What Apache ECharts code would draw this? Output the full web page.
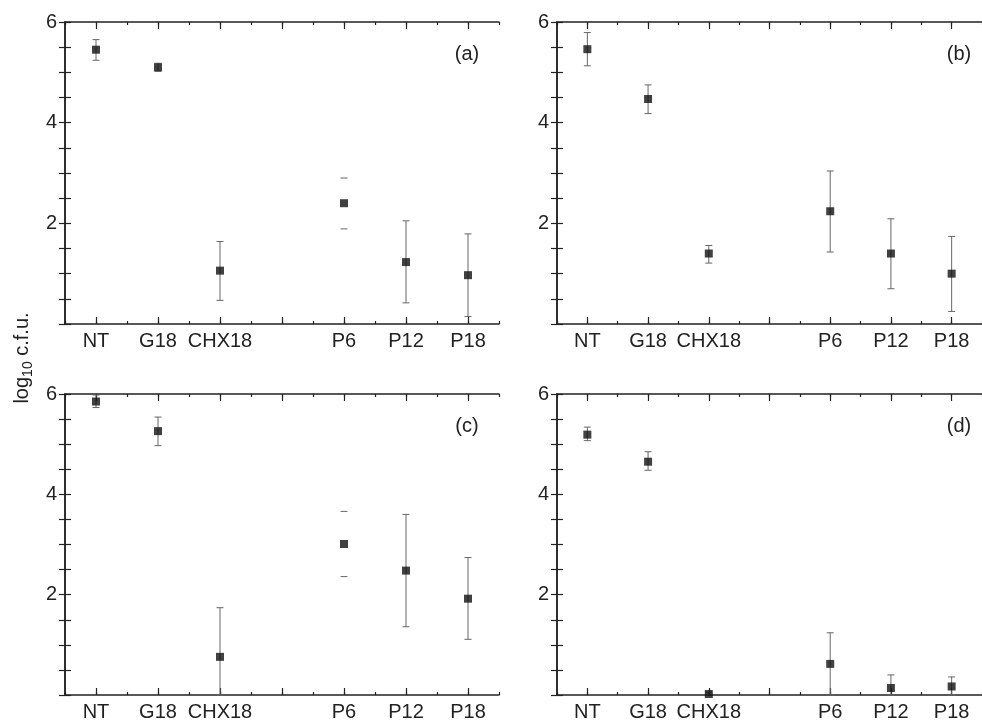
<!DOCTYPE html>
<html>
<head>
<meta charset="utf-8">
<script src="https://cdn.jsdelivr.net/npm/echarts@6/dist/echarts.min.js"></script>
<style>
  html, body { margin: 0; padding: 0; background: #fff; }
  #chart { width: 982px; height: 722px; }
</style>
</head>
<body>
<div id="chart"></div>
<script>
// treatments and where each sits on the shared x scale (0..14)
const categories = ["NT", "G18", "CHX18", "P6", "P12", "P18"];
const slots = [1, 3, 5, 9, 11, 13];
const panelNames = ["(a)", "(b)", "(c)", "(d)"];
const yTickLabels = [2, 4, 6];

// log10 c.f.u. means and error bar ends
const meanA = [5.45, 5.10, 1.06, 2.40, 1.23, 0.97];
const lowA = [5.24, 5.02, 0.47, 1.89, 0.42, 0.15];
const highA = [5.65, 5.18, 1.64, 2.90, 2.05, 1.79];

const meanB = [5.46, 4.47, 1.40, 2.24, 1.40, 1.00];
const lowB = [5.13, 4.18, 1.21, 1.43, 0.70, 0.25];
const highB = [5.79, 4.75, 1.56, 3.04, 2.09, 1.74];

const meanC = [5.85, 5.26, 0.76, 3.01, 2.48, 1.92];
const lowC = [5.73, 4.97, 0.0, 2.36, 1.36, 1.11];
const highC = [5.98, 5.54, 1.74, 3.66, 3.60, 2.74];

const meanD = [5.19, 4.65, 0.02, 0.62, 0.14, 0.17];
const lowD = [5.07, 4.48, 0.0, 0.0, 0.0, 0.0];
const highD = [5.34, 4.85, 0.05, 1.24, 0.40, 0.36];

// in (a) and (c) the P6 bar shows only its caps
const stemShown = [
  [1, 1, 1, 0, 1, 1],
  [1, 1, 1, 1, 1, 1],
  [1, 1, 1, 0, 1, 1],
  [1, 1, 1, 1, 1, 1]
];

const means = [meanA, meanB, meanC, meanD];
const lows = [lowA, lowB, lowC, lowD];
const highs = [highA, highB, highC, highD];

const font = "Liberation Sans, Arial, Helvetica, sans-serif";
const ink = "#222";
const grids = [
  { left: 65, top: 22, width: 434, height: 302 },
  { left: 557, top: 22, width: 434, height: 302 },
  { left: 65, top: 394, width: 434, height: 303 },
  { left: 557, top: 394, width: 434, height: 303 }
];

const oddSlots = [1, 3, 5, 7, 9, 11, 13];
const xAxes = [];
const yAxes = [];
const series = [];
const graphic = [];

grids.forEach((g, i) => {
  const base = { gridIndex: i, type: "value", min: 0, max: 14, interval: 1, splitLine: { show: false } };
  // bottom: line, labels, short ticks every slot
  xAxes.push(Object.assign({}, base, {
    position: "bottom",
    axisLine: { lineStyle: { color: ink, width: 1.5 } },
    axisTick: { inside: true, length: 3, lineStyle: { color: ink, width: 1.2 } },
    axisLabel: {
      customValues: slots,
      formatter: v => categories[slots.indexOf(v)] || "",
      color: ink, fontSize: 20, fontFamily: font, margin: 7
    }
  }));
  // bottom: longer ticks on odd slots
  xAxes.push(Object.assign({}, base, {
    position: "bottom",
    axisLine: { show: false },
    axisTick: { inside: true, length: 7, customValues: oddSlots, lineStyle: { color: ink, width: 1.2 } },
    axisLabel: { show: false }
  }));
  // top mirror
  xAxes.push(Object.assign({}, base, {
    position: "top",
    axisLine: { lineStyle: { color: ink, width: 1.5 } },
    axisTick: { inside: true, length: 3, lineStyle: { color: ink, width: 1.2 } },
    axisLabel: { show: false }
  }));
  xAxes.push(Object.assign({}, base, {
    position: "top",
    axisLine: { show: false },
    axisTick: { inside: true, length: 7, customValues: oddSlots, lineStyle: { color: ink, width: 1.2 } },
    axisLabel: { show: false }
  }));

  const ybase = { gridIndex: i, type: "value", min: 0, max: 6, interval: 0.5, splitLine: { show: false } };
  yAxes.push(Object.assign({}, ybase, {
    position: "left",
    axisLine: { lineStyle: { color: ink, width: 1.5 } },
    axisTick: { inside: true, length: 6, lineStyle: { color: ink, width: 1.2 } },
    axisLabel: { customValues: yTickLabels, color: ink, fontSize: 20, fontFamily: font, margin: 8 }
  }));
  yAxes.push(Object.assign({}, ybase, {
    position: "right",
    axisLine: { lineStyle: { color: ink, width: 1.5 } },
    axisTick: { inside: true, length: 6, lineStyle: { color: ink, width: 1.2 } },
    axisLabel: { show: false }
  }));

  const barData = slots.map((s, k) => [s, lows[i][k], highs[i][k], stemShown[i][k]]);
  series.push({
    type: "custom",
    xAxisIndex: i * 4,
    yAxisIndex: i * 2,
    data: barData,
    z: 2,
    renderItem: (params, api) => {
      const top = api.coord([api.value(0), api.value(2)]);
      const bot = api.coord([api.value(0), api.value(1)]);
      const w = 3.5;
      const st = { stroke: "#666", lineWidth: 1 };
      const kids = [
        { type: "line", shape: { x1: top[0] - w, y1: top[1], x2: top[0] + w, y2: top[1] }, style: st },
        { type: "line", shape: { x1: bot[0] - w, y1: bot[1], x2: bot[0] + w, y2: bot[1] }, style: st }
      ];
      if (api.value(3)) {
        kids.push({ type: "line", shape: { x1: top[0], y1: top[1], x2: bot[0], y2: bot[1] }, style: st });
      }
      return { type: "group", children: kids };
    }
  });
  series.push({
    type: "scatter",
    xAxisIndex: i * 4,
    yAxisIndex: i * 2,
    data: slots.map((s, k) => [s, means[i][k]]),
    symbol: "rect",
    symbolSize: 8,
    itemStyle: { color: "#111" },
    z: 3
  });

  graphic.push({
    type: "text",
    x: g.left + 402,
    y: g.top + 32,
    style: { text: panelNames[i], fill: ink, font: "20px " + font, align: "center", verticalAlign: "middle" }
  });
});

graphic.push({
  type: "text",
  x: 22,
  y: 358,
  rotation: Math.PI / 2,
  style: {
    text: "{n|log}{s|10}{n| c.f.u.}",
    align: "center",
    verticalAlign: "middle",
    rich: {
      n: { fontSize: 20, fontFamily: font, fill: ink, color: ink, verticalAlign: "bottom" },
      s: { fontSize: 14, fontFamily: font, fill: ink, color: ink, verticalAlign: "bottom", padding: [0, 0, -3, 0] }
    }
  }
});

const chart = echarts.init(document.getElementById("chart"));
chart.setOption({
  animation: false,
  backgroundColor: "#fff",
  grid: grids,
  xAxis: xAxes,
  yAxis: yAxes,
  series: series,
  graphic: graphic
});
</script>
</body>
</html>
